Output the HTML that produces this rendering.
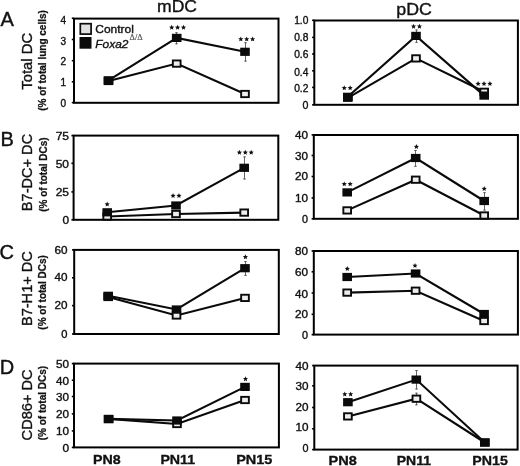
<!DOCTYPE html>
<html><head><meta charset="utf-8"><style>
html,body{margin:0;padding:0;background:#fff;}
body{width:520px;height:466px;overflow:hidden;}
svg{display:block;font-family:"Liberation Sans", sans-serif;filter:grayscale(1);}
text{stroke:#111;stroke-width:0.35px;paint-order:stroke;}
</style></head><body>
<svg width="520" height="466" viewBox="0 0 520 466">
<rect width="520" height="466" fill="#fff"/>
<text x="157.0" y="12.3" font-size="16.2" fill="#111" textLength="40.0" lengthAdjust="spacingAndGlyphs">mDC</text>
<text x="396.3" y="14.9" font-size="16.2" fill="#111" textLength="35.6" lengthAdjust="spacingAndGlyphs">pDC</text>
<text x="0.4" y="25.5" font-size="20" fill="#111" style="stroke-width:0.4px">A</text>
<text x="0.6" y="146.4" font-size="20" fill="#111" style="stroke-width:0.4px">B</text>
<text x="-0.5" y="259.3" font-size="20" fill="#111" style="stroke-width:0.4px">C</text>
<text x="-0.3" y="374.3" font-size="20" fill="#111" style="stroke-width:0.4px">D</text>
<text transform="translate(31.5,61.3) rotate(-90)" font-size="14.4" text-anchor="middle" fill="#111" textLength="56.8" lengthAdjust="spacingAndGlyphs">Total DC</text>
<text transform="translate(45.6,60.45) rotate(-90)" font-size="10" font-weight="bold" text-anchor="middle" fill="#111" style="stroke-width:0.25px" textLength="100.7" lengthAdjust="spacingAndGlyphs">(% of total lung cells)</text>
<text transform="translate(31.5,172.5) rotate(-90)" font-size="14.4" text-anchor="middle" fill="#111" textLength="77.3" lengthAdjust="spacingAndGlyphs">B7-DC+ DC</text>
<text transform="translate(46.6,174.6) rotate(-90)" font-size="10" font-weight="bold" text-anchor="middle" fill="#111" style="stroke-width:0.25px" textLength="74.2" lengthAdjust="spacingAndGlyphs">(% of total DCs)</text>
<text transform="translate(31.5,288.6) rotate(-90)" font-size="14.4" text-anchor="middle" fill="#111" textLength="75.0" lengthAdjust="spacingAndGlyphs">B7-H1+ DC</text>
<text transform="translate(46.4,292.4) rotate(-90)" font-size="10" font-weight="bold" text-anchor="middle" fill="#111" style="stroke-width:0.25px" textLength="74.5" lengthAdjust="spacingAndGlyphs">(% of total DCs)</text>
<text transform="translate(32.3,404.9) rotate(-90)" font-size="14.4" text-anchor="middle" fill="#111" textLength="71.0" lengthAdjust="spacingAndGlyphs">CD86+ DC</text>
<text transform="translate(46.3,403.1) rotate(-90)" font-size="10" font-weight="bold" text-anchor="middle" fill="#111" style="stroke-width:0.25px" textLength="74.5" lengthAdjust="spacingAndGlyphs">(% of total DCs)</text>
<rect x="74.0" y="18.6" width="204.5" height="84.19999999999999" fill="none" stroke="#000" stroke-width="2.0"/>
<line x1="71.8" y1="102.6" x2="74.0" y2="102.6" stroke="#000" stroke-width="1.6"/>
<text x="66.1" y="106.80" font-size="10.0" text-anchor="end" fill="#111" textLength="5.6" lengthAdjust="spacingAndGlyphs">0</text>
<line x1="71.8" y1="81.8" x2="74.0" y2="81.8" stroke="#000" stroke-width="1.6"/>
<text x="66.1" y="86.15" font-size="10.0" text-anchor="end" fill="#111" textLength="5.6" lengthAdjust="spacingAndGlyphs">1</text>
<line x1="71.8" y1="60.7" x2="74.0" y2="60.7" stroke="#000" stroke-width="1.6"/>
<text x="66.1" y="64.85" font-size="10.0" text-anchor="end" fill="#111" textLength="5.6" lengthAdjust="spacingAndGlyphs">2</text>
<line x1="71.8" y1="39.5" x2="74.0" y2="39.5" stroke="#000" stroke-width="1.6"/>
<text x="66.1" y="44.55" font-size="10.0" text-anchor="end" fill="#111" textLength="5.6" lengthAdjust="spacingAndGlyphs">3</text>
<line x1="71.8" y1="18.3" x2="74.0" y2="18.3" stroke="#000" stroke-width="1.6"/>
<text x="66.1" y="23.80" font-size="10.0" text-anchor="end" fill="#111" textLength="5.6" lengthAdjust="spacingAndGlyphs">4</text>
<line x1="176.5" y1="32.3" x2="176.5" y2="44.2" stroke="#666" stroke-width="1"/>
<line x1="175.2" y1="32.699999999999996" x2="177.8" y2="32.699999999999996" stroke="#555" stroke-width="0.9"/>
<line x1="175.2" y1="43.800000000000004" x2="177.8" y2="43.800000000000004" stroke="#555" stroke-width="0.9"/>
<line x1="245.5" y1="42.3" x2="245.5" y2="61.5" stroke="#666" stroke-width="1"/>
<line x1="244.2" y1="42.699999999999996" x2="246.8" y2="42.699999999999996" stroke="#555" stroke-width="0.9"/>
<line x1="244.2" y1="61.1" x2="246.8" y2="61.1" stroke="#555" stroke-width="0.9"/>
<polyline points="108.50,81.00 176.70,63.60 245.00,94.00" fill="none" stroke="#0a0a0a" stroke-width="2.1" stroke-linejoin="miter"/>
<polyline points="108.50,80.30 176.70,37.90 245.00,51.80" fill="none" stroke="#0a0a0a" stroke-width="2.1" stroke-linejoin="miter"/>
<rect x="172.85" y="60.45" width="7.70" height="6.30" fill="#eeeeee" stroke="#0a0a0a" stroke-width="1.9"/>
<rect x="241.15" y="90.85" width="7.70" height="6.30" fill="#eeeeee" stroke="#0a0a0a" stroke-width="1.9"/>
<rect x="104.65" y="77.85" width="7.70" height="6.30" fill="#eeeeee" stroke="#0a0a0a" stroke-width="1.9"/>
<rect x="103.70" y="76.20" width="9.6" height="8.2" fill="#0a0a0a"/>
<rect x="171.90" y="33.80" width="9.6" height="8.2" fill="#0a0a0a"/>
<rect x="240.20" y="47.70" width="9.6" height="8.2" fill="#0a0a0a"/>
<path d="M171.70,24.80 L172.43,26.49 L174.27,26.67 L172.89,27.89 L173.29,29.68 L171.70,28.75 L170.11,29.68 L170.51,27.89 L169.13,26.67 L170.97,26.49 Z" fill="#111"/>
<path d="M177.60,24.80 L178.33,26.49 L180.17,26.67 L178.79,27.89 L179.19,29.68 L177.60,28.75 L176.01,29.68 L176.41,27.89 L175.03,26.67 L176.87,26.49 Z" fill="#111"/>
<path d="M183.50,24.80 L184.23,26.49 L186.07,26.67 L184.69,27.89 L185.09,29.68 L183.50,28.75 L181.91,29.68 L182.31,27.89 L180.93,26.67 L182.77,26.49 Z" fill="#111"/>
<path d="M240.80,36.45 L241.53,38.14 L243.37,38.32 L241.99,39.54 L242.39,41.33 L240.80,40.40 L239.21,41.33 L239.61,39.54 L238.23,38.32 L240.07,38.14 Z" fill="#111"/>
<path d="M246.70,36.45 L247.43,38.14 L249.27,38.32 L247.89,39.54 L248.29,41.33 L246.70,40.40 L245.11,41.33 L245.51,39.54 L244.13,38.32 L245.97,38.14 Z" fill="#111"/>
<path d="M252.60,36.45 L253.33,38.14 L255.17,38.32 L253.79,39.54 L254.19,41.33 L252.60,40.40 L251.01,41.33 L251.41,39.54 L250.03,38.32 L251.87,38.14 Z" fill="#111"/>
<rect x="80.3" y="23.7" width="10.8" height="10.4" fill="#e0e0e0" stroke="#0a0a0a" stroke-width="1.7"/>
<rect x="79.5" y="37" width="12" height="11.7" fill="#0a0a0a"/>
<text x="95.3" y="32.5" font-size="11" fill="#111" textLength="38.6" lengthAdjust="spacingAndGlyphs">Control</text>
<text x="95.3" y="47.9" font-size="11.5" font-style="italic" fill="#111" textLength="33.2" lengthAdjust="spacingAndGlyphs">Foxa2</text>
<text x="129.6" y="39.9" font-size="8" fill="#555" style="stroke:#555;stroke-width:0.2px" font-family="Liberation Serif, serif" textLength="13.2" lengthAdjust="spacingAndGlyphs">&#916;/&#916;</text>
<rect x="314.3" y="20.5" width="203.59999999999997" height="84.3" fill="none" stroke="#000" stroke-width="2.0"/>
<line x1="312.1" y1="104.8" x2="314.3" y2="104.8" stroke="#000" stroke-width="1.6"/>
<text x="308.4" y="109.15" font-size="10.0" text-anchor="end" fill="#111" textLength="5.9" lengthAdjust="spacingAndGlyphs">0</text>
<line x1="312.1" y1="87.4" x2="314.3" y2="87.4" stroke="#000" stroke-width="1.6"/>
<text x="308.4" y="92.15" font-size="10.0" text-anchor="end" fill="#111" textLength="14.2" lengthAdjust="spacingAndGlyphs">0.2</text>
<line x1="312.1" y1="70.8" x2="314.3" y2="70.8" stroke="#000" stroke-width="1.6"/>
<text x="308.4" y="75.80" font-size="10.0" text-anchor="end" fill="#111" textLength="14.2" lengthAdjust="spacingAndGlyphs">0.4</text>
<line x1="312.1" y1="54.0" x2="314.3" y2="54.0" stroke="#000" stroke-width="1.6"/>
<text x="308.4" y="57.55" font-size="10.0" text-anchor="end" fill="#111" textLength="14.2" lengthAdjust="spacingAndGlyphs">0.6</text>
<line x1="312.1" y1="37.4" x2="314.3" y2="37.4" stroke="#000" stroke-width="1.6"/>
<text x="308.4" y="40.65" font-size="10.0" text-anchor="end" fill="#111" textLength="14.2" lengthAdjust="spacingAndGlyphs">0.8</text>
<line x1="312.1" y1="20.3" x2="314.3" y2="20.3" stroke="#000" stroke-width="1.6"/>
<text x="308.4" y="24.35" font-size="10.0" text-anchor="end" fill="#111" textLength="14.2" lengthAdjust="spacingAndGlyphs">1.0</text>
<line x1="416.5" y1="29.6" x2="416.5" y2="42.7" stroke="#666" stroke-width="1"/>
<line x1="415.2" y1="30.0" x2="417.8" y2="30.0" stroke="#555" stroke-width="0.9"/>
<line x1="415.2" y1="42.300000000000004" x2="417.8" y2="42.300000000000004" stroke="#555" stroke-width="0.9"/>
<polyline points="347.80,97.80 416.00,58.40 484.20,91.80" fill="none" stroke="#0a0a0a" stroke-width="2.1" stroke-linejoin="miter"/>
<polyline points="347.80,96.80 416.00,35.90 484.20,95.60" fill="none" stroke="#0a0a0a" stroke-width="2.1" stroke-linejoin="miter"/>
<rect x="343.95" y="94.65" width="7.70" height="6.30" fill="#eeeeee" stroke="#0a0a0a" stroke-width="1.9"/>
<rect x="412.15" y="55.25" width="7.70" height="6.30" fill="#eeeeee" stroke="#0a0a0a" stroke-width="1.9"/>
<rect x="480.35" y="88.65" width="7.70" height="6.30" fill="#eeeeee" stroke="#0a0a0a" stroke-width="1.9"/>
<rect x="343.00" y="92.70" width="9.6" height="8.2" fill="#0a0a0a"/>
<rect x="411.20" y="31.80" width="9.6" height="8.2" fill="#0a0a0a"/>
<rect x="479.40" y="91.50" width="9.6" height="8.2" fill="#0a0a0a"/>
<path d="M344.25,85.35 L344.98,87.04 L346.82,87.22 L345.44,88.44 L345.84,90.23 L344.25,89.30 L342.66,90.23 L343.06,88.44 L341.68,87.22 L343.52,87.04 Z" fill="#111"/>
<path d="M350.15,85.35 L350.88,87.04 L352.72,87.22 L351.34,88.44 L351.74,90.23 L350.15,89.30 L348.56,90.23 L348.96,88.44 L347.58,87.22 L349.42,87.04 Z" fill="#111"/>
<path d="M413.55,23.75 L414.28,25.44 L416.12,25.62 L414.74,26.84 L415.14,28.63 L413.55,27.70 L411.96,28.63 L412.36,26.84 L410.98,25.62 L412.82,25.44 Z" fill="#111"/>
<path d="M419.45,23.75 L420.18,25.44 L422.02,25.62 L420.64,26.84 L421.04,28.63 L419.45,27.70 L417.86,28.63 L418.26,26.84 L416.88,25.62 L418.72,25.44 Z" fill="#111"/>
<path d="M478.10,81.05 L478.83,82.74 L480.67,82.92 L479.29,84.14 L479.69,85.93 L478.10,85.00 L476.51,85.93 L476.91,84.14 L475.53,82.92 L477.37,82.74 Z" fill="#111"/>
<path d="M484.00,81.05 L484.73,82.74 L486.57,82.92 L485.19,84.14 L485.59,85.93 L484.00,85.00 L482.41,85.93 L482.81,84.14 L481.43,82.92 L483.27,82.74 Z" fill="#111"/>
<path d="M489.90,81.05 L490.63,82.74 L492.47,82.92 L491.09,84.14 L491.49,85.93 L489.90,85.00 L488.31,85.93 L488.71,84.14 L487.33,82.92 L489.17,82.74 Z" fill="#111"/>
<rect x="73.6" y="135.6" width="204.70000000000002" height="84.20000000000002" fill="none" stroke="#000" stroke-width="2.0"/>
<line x1="71.39999999999999" y1="219.8" x2="73.6" y2="219.8" stroke="#000" stroke-width="1.6"/>
<text x="69.0" y="223.60" font-size="10.0" text-anchor="end" fill="#111" textLength="6.6" lengthAdjust="spacingAndGlyphs">0</text>
<line x1="71.39999999999999" y1="191.9" x2="73.6" y2="191.9" stroke="#000" stroke-width="1.6"/>
<text x="69.0" y="196.00" font-size="10.0" text-anchor="end" fill="#111" textLength="13.3" lengthAdjust="spacingAndGlyphs">25</text>
<line x1="71.39999999999999" y1="163.3" x2="73.6" y2="163.3" stroke="#000" stroke-width="1.6"/>
<text x="69.0" y="167.50" font-size="10.0" text-anchor="end" fill="#111" textLength="13.3" lengthAdjust="spacingAndGlyphs">50</text>
<line x1="71.39999999999999" y1="135.6" x2="73.6" y2="135.6" stroke="#000" stroke-width="1.6"/>
<text x="69.0" y="139.75" font-size="10.0" text-anchor="end" fill="#111" textLength="13.3" lengthAdjust="spacingAndGlyphs">75</text>
<line x1="244.5" y1="156.5" x2="244.5" y2="179.4" stroke="#666" stroke-width="1"/>
<line x1="243.2" y1="156.9" x2="245.8" y2="156.9" stroke="#555" stroke-width="0.9"/>
<line x1="243.2" y1="179.0" x2="245.8" y2="179.0" stroke="#555" stroke-width="0.9"/>
<polyline points="107.20,216.50 176.00,214.00 244.20,212.60" fill="none" stroke="#0a0a0a" stroke-width="2.1" stroke-linejoin="miter"/>
<polyline points="107.20,212.30 176.00,205.50 244.20,167.80" fill="none" stroke="#0a0a0a" stroke-width="2.1" stroke-linejoin="miter"/>
<rect x="103.35" y="213.35" width="7.70" height="6.30" fill="#eeeeee" stroke="#0a0a0a" stroke-width="1.9"/>
<rect x="172.15" y="210.85" width="7.70" height="6.30" fill="#eeeeee" stroke="#0a0a0a" stroke-width="1.9"/>
<rect x="240.35" y="209.45" width="7.70" height="6.30" fill="#eeeeee" stroke="#0a0a0a" stroke-width="1.9"/>
<rect x="102.40" y="208.20" width="9.6" height="8.2" fill="#0a0a0a"/>
<rect x="171.20" y="201.40" width="9.6" height="8.2" fill="#0a0a0a"/>
<rect x="239.40" y="163.70" width="9.6" height="8.2" fill="#0a0a0a"/>
<path d="M107.20,201.60 L107.93,203.29 L109.77,203.47 L108.39,204.69 L108.79,206.48 L107.20,205.55 L105.61,206.48 L106.01,204.69 L104.63,203.47 L106.47,203.29 Z" fill="#111"/>
<path d="M173.05,193.10 L173.78,194.79 L175.62,194.97 L174.24,196.19 L174.64,197.98 L173.05,197.05 L171.46,197.98 L171.86,196.19 L170.48,194.97 L172.32,194.79 Z" fill="#111"/>
<path d="M178.95,193.10 L179.68,194.79 L181.52,194.97 L180.14,196.19 L180.54,197.98 L178.95,197.05 L177.36,197.98 L177.76,196.19 L176.38,194.97 L178.22,194.79 Z" fill="#111"/>
<path d="M239.40,149.80 L240.13,151.49 L241.97,151.67 L240.59,152.89 L240.99,154.68 L239.40,153.75 L237.81,154.68 L238.21,152.89 L236.83,151.67 L238.67,151.49 Z" fill="#111"/>
<path d="M245.30,149.80 L246.03,151.49 L247.87,151.67 L246.49,152.89 L246.89,154.68 L245.30,153.75 L243.71,154.68 L244.11,152.89 L242.73,151.67 L244.57,151.49 Z" fill="#111"/>
<path d="M251.20,149.80 L251.93,151.49 L253.77,151.67 L252.39,152.89 L252.79,154.68 L251.20,153.75 L249.61,154.68 L250.01,152.89 L248.63,151.67 L250.47,151.49 Z" fill="#111"/>
<rect x="313.8" y="135.0" width="204.09999999999997" height="83.80000000000001" fill="none" stroke="#000" stroke-width="2.0"/>
<line x1="311.6" y1="218.8" x2="313.8" y2="218.8" stroke="#000" stroke-width="1.6"/>
<text x="308.0" y="223.35" font-size="10.0" text-anchor="end" fill="#111" textLength="6.0" lengthAdjust="spacingAndGlyphs">0</text>
<line x1="311.6" y1="198.0" x2="313.8" y2="198.0" stroke="#000" stroke-width="1.6"/>
<text x="308.0" y="202.25" font-size="10.0" text-anchor="end" fill="#111" textLength="13.0" lengthAdjust="spacingAndGlyphs">10</text>
<line x1="311.6" y1="176.5" x2="313.8" y2="176.5" stroke="#000" stroke-width="1.6"/>
<text x="308.0" y="180.05" font-size="10.0" text-anchor="end" fill="#111" textLength="13.0" lengthAdjust="spacingAndGlyphs">20</text>
<line x1="311.6" y1="155.5" x2="313.8" y2="155.5" stroke="#000" stroke-width="1.6"/>
<text x="308.0" y="159.90" font-size="10.0" text-anchor="end" fill="#111" textLength="13.0" lengthAdjust="spacingAndGlyphs">30</text>
<line x1="311.6" y1="134.9" x2="313.8" y2="134.9" stroke="#000" stroke-width="1.6"/>
<text x="308.0" y="139.40" font-size="10.0" text-anchor="end" fill="#111" textLength="13.0" lengthAdjust="spacingAndGlyphs">40</text>
<line x1="415.5" y1="150.1" x2="415.5" y2="166.7" stroke="#666" stroke-width="1"/>
<line x1="414.2" y1="150.5" x2="416.8" y2="150.5" stroke="#555" stroke-width="0.9"/>
<line x1="414.2" y1="166.29999999999998" x2="416.8" y2="166.29999999999998" stroke="#555" stroke-width="0.9"/>
<line x1="484.5" y1="192.3" x2="484.5" y2="210.5" stroke="#666" stroke-width="1"/>
<line x1="483.2" y1="192.70000000000002" x2="485.8" y2="192.70000000000002" stroke="#555" stroke-width="0.9"/>
<line x1="483.2" y1="210.1" x2="485.8" y2="210.1" stroke="#555" stroke-width="0.9"/>
<polyline points="347.20,210.40 415.70,179.70 484.20,215.50" fill="none" stroke="#0a0a0a" stroke-width="2.1" stroke-linejoin="miter"/>
<polyline points="347.20,192.40 415.70,158.00 484.20,201.00" fill="none" stroke="#0a0a0a" stroke-width="2.1" stroke-linejoin="miter"/>
<rect x="343.35" y="207.25" width="7.70" height="6.30" fill="#eeeeee" stroke="#0a0a0a" stroke-width="1.9"/>
<rect x="411.85" y="176.55" width="7.70" height="6.30" fill="#eeeeee" stroke="#0a0a0a" stroke-width="1.9"/>
<rect x="480.35" y="212.35" width="7.70" height="6.30" fill="#eeeeee" stroke="#0a0a0a" stroke-width="1.9"/>
<rect x="342.40" y="188.30" width="9.6" height="8.2" fill="#0a0a0a"/>
<rect x="410.90" y="153.90" width="9.6" height="8.2" fill="#0a0a0a"/>
<rect x="479.40" y="196.90" width="9.6" height="8.2" fill="#0a0a0a"/>
<path d="M344.25,181.40 L344.98,183.09 L346.82,183.27 L345.44,184.49 L345.84,186.28 L344.25,185.35 L342.66,186.28 L343.06,184.49 L341.68,183.27 L343.52,183.09 Z" fill="#111"/>
<path d="M350.15,181.40 L350.88,183.09 L352.72,183.27 L351.34,184.49 L351.74,186.28 L350.15,185.35 L348.56,186.28 L348.96,184.49 L347.58,183.27 L349.42,183.09 Z" fill="#111"/>
<path d="M416.40,144.05 L417.13,145.74 L418.97,145.92 L417.59,147.14 L417.99,148.93 L416.40,148.00 L414.81,148.93 L415.21,147.14 L413.83,145.92 L415.67,145.74 Z" fill="#111"/>
<path d="M484.20,186.10 L484.93,187.79 L486.77,187.97 L485.39,189.19 L485.79,190.98 L484.20,190.05 L482.61,190.98 L483.01,189.19 L481.63,187.97 L483.47,187.79 Z" fill="#111"/>
<rect x="74.2" y="249.9" width="204.60000000000002" height="84.1" fill="none" stroke="#000" stroke-width="2.0"/>
<line x1="72.0" y1="334.0" x2="74.2" y2="334.0" stroke="#000" stroke-width="1.6"/>
<text x="67.4" y="337.50" font-size="10.0" text-anchor="end" fill="#111" textLength="6.2" lengthAdjust="spacingAndGlyphs">0</text>
<line x1="72.0" y1="305.6" x2="74.2" y2="305.6" stroke="#000" stroke-width="1.6"/>
<text x="67.4" y="308.85" font-size="10.0" text-anchor="end" fill="#111" textLength="13.0" lengthAdjust="spacingAndGlyphs">20</text>
<line x1="72.0" y1="277.8" x2="74.2" y2="277.8" stroke="#000" stroke-width="1.6"/>
<text x="67.4" y="281.35" font-size="10.0" text-anchor="end" fill="#111" textLength="13.0" lengthAdjust="spacingAndGlyphs">40</text>
<line x1="72.0" y1="249.9" x2="74.2" y2="249.9" stroke="#000" stroke-width="1.6"/>
<text x="67.4" y="253.65" font-size="10.0" text-anchor="end" fill="#111" textLength="13.0" lengthAdjust="spacingAndGlyphs">60</text>
<line x1="245.5" y1="261.2" x2="245.5" y2="275.8" stroke="#666" stroke-width="1"/>
<line x1="244.2" y1="261.59999999999997" x2="246.8" y2="261.59999999999997" stroke="#555" stroke-width="0.9"/>
<line x1="244.2" y1="275.40000000000003" x2="246.8" y2="275.40000000000003" stroke="#555" stroke-width="0.9"/>
<polyline points="108.20,297.00 176.50,315.50 245.00,297.90" fill="none" stroke="#0a0a0a" stroke-width="2.1" stroke-linejoin="miter"/>
<polyline points="108.20,295.80 176.50,309.50 245.00,268.20" fill="none" stroke="#0a0a0a" stroke-width="2.1" stroke-linejoin="miter"/>
<rect x="104.35" y="293.85" width="7.70" height="6.30" fill="#eeeeee" stroke="#0a0a0a" stroke-width="1.9"/>
<rect x="172.65" y="312.35" width="7.70" height="6.30" fill="#eeeeee" stroke="#0a0a0a" stroke-width="1.9"/>
<rect x="241.15" y="294.75" width="7.70" height="6.30" fill="#eeeeee" stroke="#0a0a0a" stroke-width="1.9"/>
<rect x="103.40" y="291.70" width="9.6" height="8.2" fill="#0a0a0a"/>
<rect x="171.70" y="305.40" width="9.6" height="8.2" fill="#0a0a0a"/>
<rect x="240.20" y="264.10" width="9.6" height="8.2" fill="#0a0a0a"/>
<path d="M245.40,254.30 L246.13,255.99 L247.97,256.17 L246.59,257.39 L246.99,259.18 L245.40,258.25 L243.81,259.18 L244.21,257.39 L242.83,256.17 L244.67,255.99 Z" fill="#111"/>
<rect x="313.8" y="251.0" width="204.09999999999997" height="83.60000000000002" fill="none" stroke="#000" stroke-width="2.0"/>
<line x1="311.6" y1="334.6" x2="313.8" y2="334.6" stroke="#000" stroke-width="1.6"/>
<text x="308.0" y="339.25" font-size="10.0" text-anchor="end" fill="#111" textLength="6.0" lengthAdjust="spacingAndGlyphs">0</text>
<line x1="311.6" y1="314.3" x2="313.8" y2="314.3" stroke="#000" stroke-width="1.6"/>
<text x="308.0" y="317.85" font-size="10.0" text-anchor="end" fill="#111" textLength="13.0" lengthAdjust="spacingAndGlyphs">20</text>
<line x1="311.6" y1="293.0" x2="313.8" y2="293.0" stroke="#000" stroke-width="1.6"/>
<text x="308.0" y="297.75" font-size="10.0" text-anchor="end" fill="#111" textLength="13.0" lengthAdjust="spacingAndGlyphs">40</text>
<line x1="311.6" y1="271.8" x2="313.8" y2="271.8" stroke="#000" stroke-width="1.6"/>
<text x="308.0" y="275.75" font-size="10.0" text-anchor="end" fill="#111" textLength="13.0" lengthAdjust="spacingAndGlyphs">60</text>
<line x1="311.6" y1="251.0" x2="313.8" y2="251.0" stroke="#000" stroke-width="1.6"/>
<text x="308.0" y="254.95" font-size="10.0" text-anchor="end" fill="#111" textLength="13.0" lengthAdjust="spacingAndGlyphs">80</text>
<polyline points="347.20,292.60 415.60,290.70 484.10,321.00" fill="none" stroke="#0a0a0a" stroke-width="2.1" stroke-linejoin="miter"/>
<polyline points="347.20,277.00 415.60,273.50 484.10,314.00" fill="none" stroke="#0a0a0a" stroke-width="2.1" stroke-linejoin="miter"/>
<rect x="343.35" y="289.45" width="7.70" height="6.30" fill="#eeeeee" stroke="#0a0a0a" stroke-width="1.9"/>
<rect x="411.75" y="287.55" width="7.70" height="6.30" fill="#eeeeee" stroke="#0a0a0a" stroke-width="1.9"/>
<rect x="480.25" y="317.85" width="7.70" height="6.30" fill="#eeeeee" stroke="#0a0a0a" stroke-width="1.9"/>
<rect x="342.40" y="272.90" width="9.6" height="8.2" fill="#0a0a0a"/>
<rect x="410.80" y="269.40" width="9.6" height="8.2" fill="#0a0a0a"/>
<rect x="479.30" y="309.90" width="9.6" height="8.2" fill="#0a0a0a"/>
<path d="M347.30,266.10 L348.03,267.79 L349.87,267.97 L348.49,269.19 L348.89,270.98 L347.30,270.05 L345.71,270.98 L346.11,269.19 L344.73,267.97 L346.57,267.79 Z" fill="#111"/>
<path d="M415.00,262.95 L415.73,264.64 L417.57,264.82 L416.19,266.04 L416.59,267.83 L415.00,266.90 L413.41,267.83 L413.81,266.04 L412.43,264.82 L414.27,264.64 Z" fill="#111"/>
<rect x="74.0" y="363.6" width="204.89999999999998" height="83.79999999999995" fill="none" stroke="#000" stroke-width="2.0"/>
<line x1="71.8" y1="447.4" x2="74.0" y2="447.4" stroke="#000" stroke-width="1.6"/>
<text x="69.0" y="451.90" font-size="10.0" text-anchor="end" fill="#111" textLength="6.6" lengthAdjust="spacingAndGlyphs">0</text>
<line x1="71.8" y1="430.9" x2="74.0" y2="430.9" stroke="#000" stroke-width="1.6"/>
<text x="69.0" y="435.15" font-size="10.0" text-anchor="end" fill="#111" textLength="13.0" lengthAdjust="spacingAndGlyphs">10</text>
<line x1="71.8" y1="413.9" x2="74.0" y2="413.9" stroke="#000" stroke-width="1.6"/>
<text x="69.0" y="417.65" font-size="10.0" text-anchor="end" fill="#111" textLength="13.0" lengthAdjust="spacingAndGlyphs">20</text>
<line x1="71.8" y1="396.5" x2="74.0" y2="396.5" stroke="#000" stroke-width="1.6"/>
<text x="69.0" y="401.05" font-size="10.0" text-anchor="end" fill="#111" textLength="13.0" lengthAdjust="spacingAndGlyphs">30</text>
<line x1="71.8" y1="380.2" x2="74.0" y2="380.2" stroke="#000" stroke-width="1.6"/>
<text x="69.0" y="385.05" font-size="10.0" text-anchor="end" fill="#111" textLength="13.0" lengthAdjust="spacingAndGlyphs">40</text>
<line x1="71.8" y1="363.6" x2="74.0" y2="363.6" stroke="#000" stroke-width="1.6"/>
<text x="69.0" y="367.50" font-size="10.0" text-anchor="end" fill="#111" textLength="13.0" lengthAdjust="spacingAndGlyphs">50</text>
<polyline points="108.60,418.90 177.00,424.00 245.00,400.00" fill="none" stroke="#0a0a0a" stroke-width="2.1" stroke-linejoin="miter"/>
<polyline points="108.60,418.90 177.00,420.50 245.00,386.90" fill="none" stroke="#0a0a0a" stroke-width="2.1" stroke-linejoin="miter"/>
<rect x="104.75" y="416.05" width="7.70" height="6.30" fill="#eeeeee" stroke="#0a0a0a" stroke-width="1.9"/>
<rect x="173.15" y="420.85" width="7.70" height="6.30" fill="#eeeeee" stroke="#0a0a0a" stroke-width="1.9"/>
<rect x="241.15" y="396.85" width="7.70" height="6.30" fill="#eeeeee" stroke="#0a0a0a" stroke-width="1.9"/>
<rect x="103.80" y="414.80" width="9.6" height="8.2" fill="#0a0a0a"/>
<rect x="172.20" y="416.40" width="9.6" height="8.2" fill="#0a0a0a"/>
<rect x="240.20" y="382.80" width="9.6" height="8.2" fill="#0a0a0a"/>
<path d="M245.50,376.25 L246.23,377.94 L248.07,378.12 L246.69,379.34 L247.09,381.13 L245.50,380.20 L243.91,381.13 L244.31,379.34 L242.93,378.12 L244.77,377.94 Z" fill="#111"/>
<rect x="314.3" y="365.6" width="203.3" height="84.0" fill="none" stroke="#000" stroke-width="2.0"/>
<line x1="312.1" y1="449.6" x2="314.3" y2="449.6" stroke="#000" stroke-width="1.6"/>
<text x="308.4" y="452.05" font-size="10.0" text-anchor="end" fill="#111" textLength="6.0" lengthAdjust="spacingAndGlyphs">0</text>
<line x1="312.1" y1="428.8" x2="314.3" y2="428.8" stroke="#000" stroke-width="1.6"/>
<text x="308.4" y="431.45" font-size="10.0" text-anchor="end" fill="#111" textLength="13.0" lengthAdjust="spacingAndGlyphs">10</text>
<line x1="312.1" y1="407.5" x2="314.3" y2="407.5" stroke="#000" stroke-width="1.6"/>
<text x="308.4" y="410.85" font-size="10.0" text-anchor="end" fill="#111" textLength="13.0" lengthAdjust="spacingAndGlyphs">20</text>
<line x1="312.1" y1="385.8" x2="314.3" y2="385.8" stroke="#000" stroke-width="1.6"/>
<text x="308.4" y="390.35" font-size="10.0" text-anchor="end" fill="#111" textLength="13.0" lengthAdjust="spacingAndGlyphs">30</text>
<line x1="312.1" y1="365.6" x2="314.3" y2="365.6" stroke="#000" stroke-width="1.6"/>
<text x="308.4" y="370.05" font-size="10.0" text-anchor="end" fill="#111" textLength="13.0" lengthAdjust="spacingAndGlyphs">40</text>
<line x1="416.5" y1="370.1" x2="416.5" y2="389.4" stroke="#666" stroke-width="1"/>
<line x1="415.2" y1="370.5" x2="417.8" y2="370.5" stroke="#555" stroke-width="0.9"/>
<line x1="415.2" y1="389.0" x2="417.8" y2="389.0" stroke="#555" stroke-width="0.9"/>
<line x1="416.5" y1="392.8" x2="416.5" y2="405.2" stroke="#666" stroke-width="1"/>
<line x1="415.2" y1="393.2" x2="417.8" y2="393.2" stroke="#555" stroke-width="0.9"/>
<line x1="415.2" y1="404.8" x2="417.8" y2="404.8" stroke="#555" stroke-width="0.9"/>
<polyline points="347.90,416.40 416.30,398.70 484.80,442.50" fill="none" stroke="#0a0a0a" stroke-width="2.1" stroke-linejoin="miter"/>
<polyline points="347.90,402.20 416.30,379.60 484.80,442.50" fill="none" stroke="#0a0a0a" stroke-width="2.1" stroke-linejoin="miter"/>
<rect x="344.05" y="413.25" width="7.70" height="6.30" fill="#eeeeee" stroke="#0a0a0a" stroke-width="1.9"/>
<rect x="412.55" y="395.55" width="7.70" height="6.30" fill="#eeeeee" stroke="#0a0a0a" stroke-width="1.9"/>
<rect x="480.95" y="439.35" width="7.70" height="6.30" fill="#eeeeee" stroke="#0a0a0a" stroke-width="1.9"/>
<rect x="343.10" y="398.10" width="9.6" height="8.2" fill="#0a0a0a"/>
<rect x="411.50" y="375.50" width="9.6" height="8.2" fill="#0a0a0a"/>
<rect x="480.00" y="438.40" width="9.6" height="8.2" fill="#0a0a0a"/>
<path d="M344.75,391.50 L345.48,393.19 L347.32,393.37 L345.94,394.59 L346.34,396.38 L344.75,395.45 L343.16,396.38 L343.56,394.59 L342.18,393.37 L344.02,393.19 Z" fill="#111"/>
<path d="M350.65,391.50 L351.38,393.19 L353.22,393.37 L351.84,394.59 L352.24,396.38 L350.65,395.45 L349.06,396.38 L349.46,394.59 L348.08,393.37 L349.92,393.19 Z" fill="#111"/>
<text x="92.9" y="464.3" font-size="13.5" font-weight="bold" fill="#111" textLength="27.7" lengthAdjust="spacingAndGlyphs">PN8</text>
<text x="160.4" y="464.0" font-size="13.5" font-weight="bold" fill="#111" textLength="34.7" lengthAdjust="spacingAndGlyphs">PN11</text>
<text x="236.2" y="463.8" font-size="13.5" font-weight="bold" fill="#111" textLength="36.2" lengthAdjust="spacingAndGlyphs">PN15</text>
<text x="328.6" y="465.2" font-size="13.5" font-weight="bold" fill="#111" textLength="28.3" lengthAdjust="spacingAndGlyphs">PN8</text>
<text x="396.8" y="465.2" font-size="13.5" font-weight="bold" fill="#111" textLength="34.2" lengthAdjust="spacingAndGlyphs">PN11</text>
<text x="472.3" y="465.2" font-size="13.5" font-weight="bold" fill="#111" textLength="35.5" lengthAdjust="spacingAndGlyphs">PN15</text>
</svg>
</body></html>
